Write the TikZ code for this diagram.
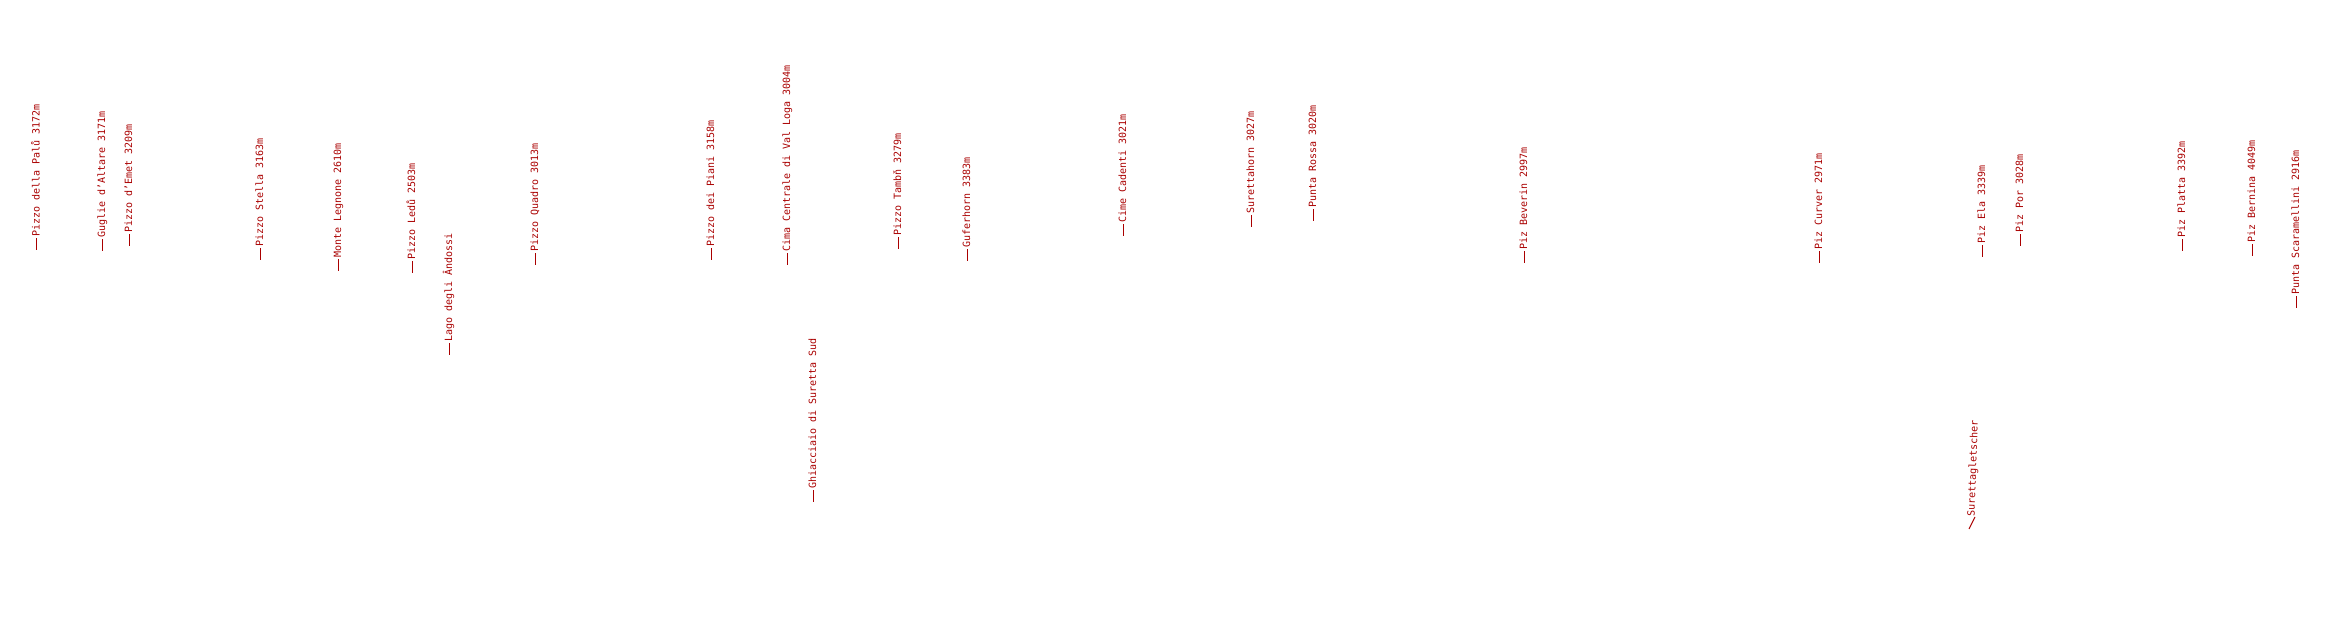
\documentclass[tikz,border=0pt]{standalone}
\usepackage{fontspec}
\setmonofont{DejaVu Sans Mono}
\definecolor{lblred}{RGB}{170,0,0}
\tikzset{
  lbl/.style={font=\ttfamily\fontsize{10}{12}\selectfont, text=lblred, rotate=90, inner sep=0pt, anchor=base west},
  tick/.style={draw=lblred, line width=1pt}
}
\newcommand\peakmark[4]{%
  \coordinate (#1t) at (#2, 620-#3);
  \node[lbl] (#1) at (#2+3, 620-#3+13) {#4};
  \draw[tick] (#1t) -- ++(0,12);
}
\begin{document}
\begin{tikzpicture}[x=1pt,y=1pt]
\useasboundingbox (0,0) rectangle (2351,620);
\fill[white] (0,0) rectangle (2351,620);
\peakmark{palu}{36.7}{250}{Pizzo della Palů 3172m}
\peakmark{altare}{102}{251}{Guglie d’Altare 3171m}
\peakmark{emet}{129}{246}{Pizzo d’Emet 3209m}
\peakmark{stella}{260}{260}{Pizzo Stella 3163m}
\peakmark{legnone}{338}{271}{Monte Legnone 2610m}
\peakmark{ledu}{412}{273}{Pizzo Ledů 2503m}
\peakmark{andossi}{449}{355}{Lago degli Ândossi}
\peakmark{quadro}{535}{265}{Pizzo Quadro 3013m}
\peakmark{piani}{711}{260}{Pizzo dei Piani 3158m}
\peakmark{valloga}{787}{265}{Cima Centrale di Val Loga 3004m}
\peakmark{ghiacciaio}{813}{502}{Ghiacciaio di Suretta Sud}
\peakmark{tambo}{898}{249}{Pizzo Tambň 3279m}
\peakmark{guferhorn}{967}{261}{Guferhorn 3383m}
\peakmark{cadenti}{1123}{236}{Cime Cadenti 3021m}
\peakmark{surettahorn}{1251}{227}{Surettahorn 3027m}
\peakmark{rossa}{1313}{221}{Punta Rossa 3020m}
\peakmark{beverin}{1524}{263}{Piz Beverin 2997m}
\peakmark{curver}{1819}{263}{Piz Curver 2971m}
\peakmark{ela}{1982}{257}{Piz Ela 3339m}
\peakmark{por}{2020}{246}{Piz Por 3028m}
\peakmark{platta}{2182}{251}{Piz Platta 3392m}
\peakmark{bernina}{2252}{256}{Piz Bernina 4049m}
\peakmark{scaramellini}{2296}{308}{Punta Scaramellini 2916m}
% slanted label
\coordinate (glt) at (1969, 620-529);
\node[lbl, rotate=-2] (gl) at (1974.5, 620-517) {Surettagletscher};
\draw[tick] (glt) -- ++(6,12);
\end{tikzpicture}
\end{document}
